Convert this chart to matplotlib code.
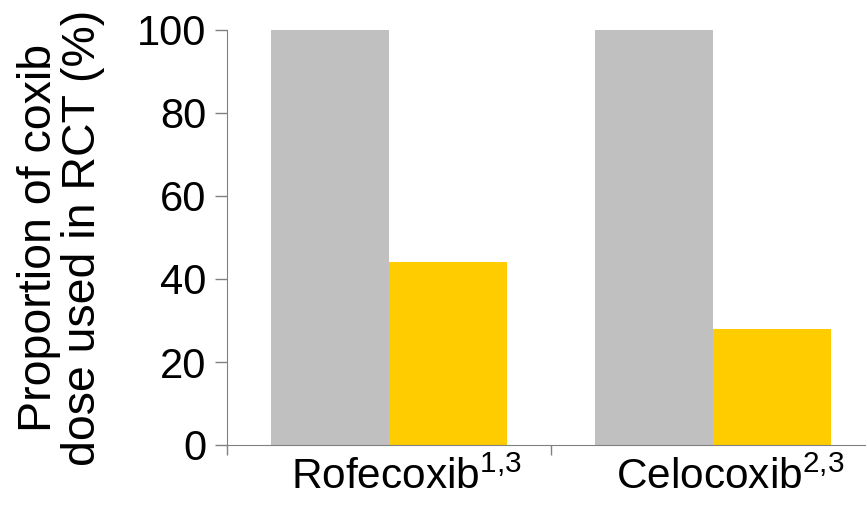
import matplotlib
matplotlib.use("Agg")
import matplotlib.pyplot as plt
import matplotlib.transforms as mtransforms
import numpy as np

plt.rcParams['font.family'] = ['Liberation Sans', 'DejaVu Sans']
plt.rcParams['mathtext.fontset'] = 'custom'
plt.rcParams['mathtext.rm'] = 'Liberation Sans'
plt.rcParams['mathtext.it'] = 'Liberation Sans'

categories = ["Rofecoxib$^{1{,}3}$", "Celocoxib$^{2{,}3}$"]
series_gray = [100, 100]
series_yellow = [44, 28]
yticks = [0, 20, 40, 60, 80, 100]

fig = plt.figure(figsize=(8.66, 5.09), dpi=100)
ax = fig.add_axes([227/866, 1-445/509, 648/866, 415/509])

x = np.arange(len(categories))
w = 0.364
ax.bar(x - w/2, series_gray, width=w, color="#C0C0C0")
ax.bar(x + w/2, series_yellow, width=w, color="#FFCC00")

ax.set_xlim(-0.5, 1.5)
ax.set_ylim(0, 100)
ax.set_yticks(yticks)
ax.set_yticklabels([str(v) for v in yticks], fontsize=30)
ax.set_xticks([-0.5, 0.5, 1.5])
ax.set_xticklabels([])
ax.set_xticks(x, minor=True)
ax.set_xticklabels(categories, minor=True, fontsize=30.5)
ax.tick_params(axis='x', which='minor', length=0, pad=9)
ax.tick_params(axis='x', which='major', length=7, width=1, color="#808080", direction='out')
ax.tick_params(axis='y', length=9, width=1, color="#808080", direction='out', pad=6)
off = mtransforms.ScaledTranslation(17/100, 0, fig.dpi_scale_trans)
for lab in ax.get_xticklabels(minor=True):
    lab.set_transform(lab.get_transform() + off)
for s in ['top', 'right']:
    ax.spines[s].set_visible(False)
for s in ['left', 'bottom']:
    ax.spines[s].set_color("#808080")
ax.set_ylabel("Proportion of coxib\ndose used in RCT (%)", fontsize=33.5, linespacing=1.0)
ax.yaxis.set_label_coords(-(227-105)/648, 0.5)

fig.savefig("out.png", dpi=100)
